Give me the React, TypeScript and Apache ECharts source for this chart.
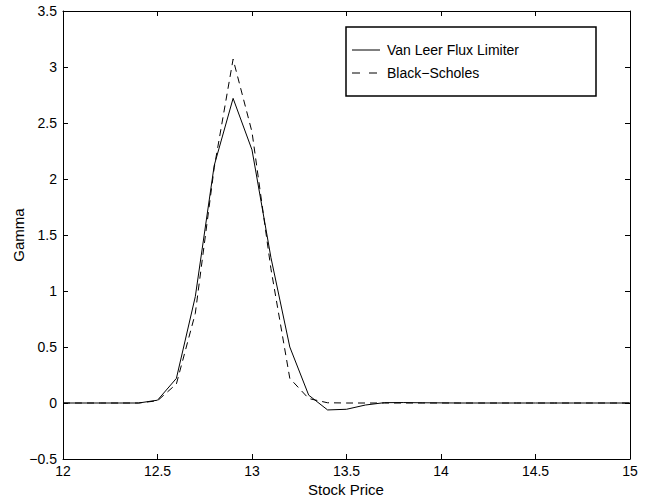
import React, { useEffect, useRef } from "react";
import * as echarts from "echarts";

const stockPrice = [
  12.0, 12.1, 12.2, 12.3, 12.4, 12.5, 12.6, 12.7, 12.8, 12.9, 13.0, 13.1, 13.2, 13.3, 13.4, 13.5,
  13.6, 13.7, 13.8, 13.9, 14.0, 14.1, 14.2, 14.3, 14.4, 14.5, 14.6, 14.7, 14.8, 14.9, 15.0,
];
const vanLeer = [
  0, 0, 0, 0, 0, 0.025, 0.22, 0.95, 2.12, 2.72, 2.26, 1.3, 0.5, 0.07, -0.062, -0.056,
  -0.018, 0.003, 0.004, 0.002, 0.001, 0, 0, 0, 0, 0, 0, 0, 0, 0, 0,
];
const blackScholes = [
  0, 0, 0, 0, 0, 0.02, 0.17, 0.8, 2.1, 3.07, 2.42, 1.2, 0.22, 0.04, 0.002, 0,
  0, 0, 0, 0, 0, 0, 0, 0, 0, 0, 0, 0, 0, 0, 0,
];
const seriesNames = ["Van Leer Flux Limiter", "Black\u2212Scholes"];
const xTitle = "Stock Price";
const yTitle = "Gamma";

const FONT = "'Liberation Sans', Arial, Helvetica, sans-serif";

export default function App() {
  const ref = useRef<HTMLDivElement>(null);
  useEffect(() => {
    if (!ref.current) return;
    const chart = echarts.init(ref.current, undefined, { renderer: "svg" });
    const fmt = (v: number) => String(v).replace("-", "\u2212");
    const axisCommon = {
      type: "value" as const,
      axisLine: { show: true, onZero: false, lineStyle: { color: "#000", width: 1 } },
      axisTick: { show: true, inside: true, length: 5, lineStyle: { color: "#000" } },
      splitLine: { show: false },
    };
    chart.setOption({
      animation: false,
      backgroundColor: "#fff",
      textStyle: { fontFamily: FONT },
      grid: { left: 63, right: 20, top: 11, bottom: 42, containLabel: false },
      xAxis: [
        {
          ...axisCommon,
          min: 12,
          max: 15,
          interval: 0.5,
          position: "bottom",
          axisLabel: { color: "#000", fontSize: 14, fontFamily: FONT, margin: 5, formatter: fmt },
        },
        {
          ...axisCommon,
          min: 12,
          max: 15,
          interval: 0.5,
          position: "top",
          axisLabel: { show: false },
        },
      ],
      yAxis: [
        {
          ...axisCommon,
          min: -0.5,
          max: 3.5,
          interval: 0.5,
          position: "left",
          axisLabel: { color: "#000", fontSize: 14, fontFamily: FONT, margin: 6, formatter: fmt },
        },
        {
          ...axisCommon,
          min: -0.5,
          max: 3.5,
          interval: 0.5,
          position: "right",
          axisLabel: { show: false },
        },
      ],
      series: [
        {
          name: seriesNames[0],
          type: "line",
          data: stockPrice.map((x, i) => [x, vanLeer[i]]),
          showSymbol: false,
          symbol: "none",
          lineStyle: { color: "#000", width: 1, type: "solid" },
          z: 3,
        },
        {
          name: seriesNames[1],
          type: "line",
          data: stockPrice.map((x, i) => [x, blackScholes[i]]),
          showSymbol: false,
          symbol: "none",
          lineStyle: { color: "#000", width: 1, type: [7, 5] },
          z: 2,
        },
      ],
      graphic: [
        {
          type: "text",
          x: 346,
          y: 489,
          style: { text: xTitle, font: `15px ${FONT}`, fill: "#000", align: "center", verticalAlign: "middle" },
        },
        {
          type: "text",
          x: 18,
          y: 235,
          rotation: Math.PI / 2,
          style: { text: yTitle, font: `15px ${FONT}`, fill: "#000", align: "center", verticalAlign: "middle" },
        },
        {
          type: "rect",
          shape: { x: 346, y: 27, width: 250, height: 69 },
          style: { fill: "#fff", stroke: "#000", lineWidth: 1.5 },
          z: 10,
        },
        {
          type: "line",
          shape: { x1: 352, y1: 50, x2: 380, y2: 50 },
          style: { stroke: "#000", lineWidth: 1 },
          z: 11,
        },
        {
          type: "line",
          shape: { x1: 352, y1: 73, x2: 380, y2: 73 },
          style: { stroke: "#000", lineWidth: 1, lineDash: [8, 9] },
          z: 11,
        },
        {
          type: "text",
          x: 387,
          y: 50,
          style: { text: seriesNames[0], font: `14px ${FONT}`, fill: "#000", verticalAlign: "middle" },
          z: 11,
        },
        {
          type: "text",
          x: 387,
          y: 73,
          style: { text: seriesNames[1], font: `14px ${FONT}`, fill: "#000", verticalAlign: "middle" },
          z: 11,
        },
      ],
    });
    return () => chart.dispose();
  }, []);
  return <div ref={ref} style={{ width: 650, height: 501, position: "absolute", left: 0, top: 0 }} />;
}
